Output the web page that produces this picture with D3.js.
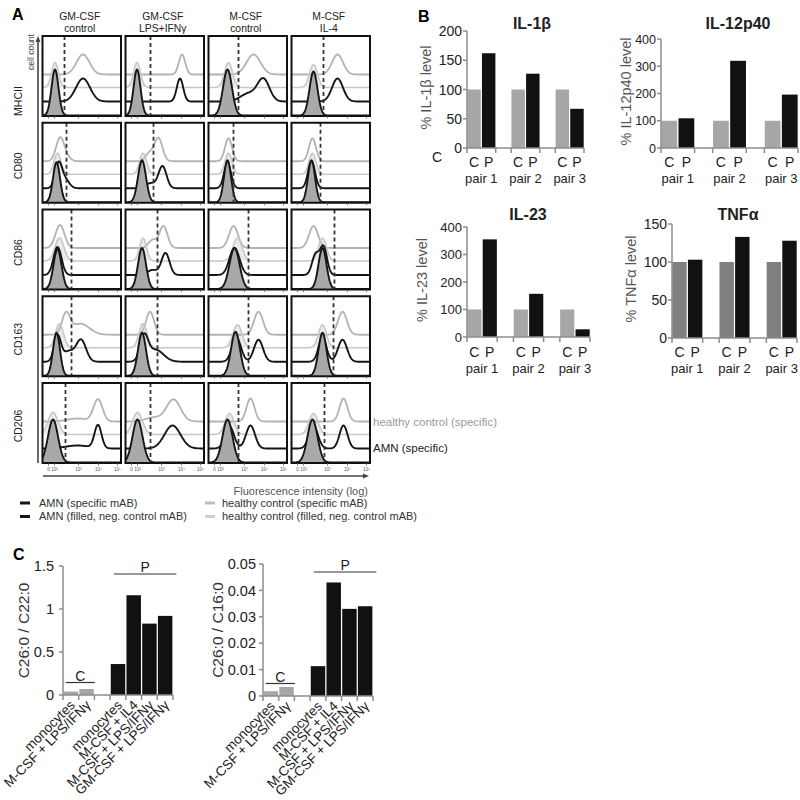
<!DOCTYPE html>
<html><head><meta charset="utf-8">
<script src="https://cdn.jsdelivr.net/npm/d3@7"></script>
<style>body{margin:0;background:#fff} svg{display:block} text{font-family:"Liberation Sans",Arial,sans-serif}</style>
</head><body><script>
// ---------------- DATA ----------------
// Panel A: flow cytometry overlays
const markers = ["MHCII","CD80","CD86","CD163","CD206"];
const conditionTop = ["GM-CSF","GM-CSF","M-CSF","M-CSF"];
const conditionBottom = ["control","LPS+IFNγ","control","IL-4"];
const fluorTicks = [6,12,36,56,75];
const fluorTickLabels = ["0","10²","10³","10⁴","10⁵"];
const gates = [[22,25,30,32],[24,28,25,29],[29,32,40,43],[29,32,40,42],[23,25,30,33]];
// each condition: [healthy specific, healthy neg. control, AMN specific, AMN neg. control]
// each trace: list of peaks [position, height, spread]
const histMHCII = [
  [[[40.5,20,6.5]], [[12.5,25,3.5]], [[40.5,23,7]], [[12.5,46,3.5]]],
  [[[56.5,20,3.2]], [[11.5,25,3.5]], [[54.5,23,3.2]], [[11.5,46,3.5]]],
  [[[45,20,7]], [[20,25,4]], [[55,22,6],[40,8,8]], [[19,46,4.5]]],
  [[[46,20,5.5]], [[22,23,4]], [[46,23,5.5]], [[22,44,4]]]
];
const histCD80 = [
  [[[17.5,23,4],[24,4,4]], [[15,21,3.5]], [[16,25,3.5],[23,8,4]], [[14,40,3.5]]],
  [[[33,23,4],[24,8,4]], [[17.5,21,3.5]], [[37,22,4],[25,5,5]], [[16.5,42,4]]],
  [[[20,23,3.5]], [[20,21,3.5]], [[19,25,3.5]], [[19,42,3.5]]],
  [[[21,23,3.5]], [[21,21,3.5]], [[20,27,3.5]], [[20,42,3.5]]]
];
const histCD86 = [
  [[[17.5,23,4.5]], [[17,23,4.5]], [[15,28,4]], [[15,40,4]]],
  [[[38,22,4],[27,8,4]], [[17.5,23,3.5]], [[40,22,4],[27,5,5]], [[16.5,41,4]]],
  [[[25,22,4.5]], [[29,23,4.5]], [[26,27,5]], [[26,41,5]]],
  [[[22,22,4.5]], [[31,23,4]], [[24,20,3.5],[32,28,3.5]], [[31,41,4]]]
];
const histCD163 = [
  [[[23.5,20,4],[38,11,9]], [[17,24,4]], [[15,26,3.5],[26,10,5],[38.5,22,5]], [[14,43,3.5]]],
  [[[24.5,23,4]], [[17.5,24,4]], [[18.5,24,4],[30,12,8]], [[16.5,43,4]]],
  [[[50,23,4.5]], [[29,23,4.5]], [[28,24,4.5],[50,22,4.5]], [[27,44,4.5]]],
  [[[51,23,4.5]], [[31,23,4]], [[31,24,4],[51,22,4.5]], [[31,43,4]]]
];
const histCD206 = [
  [[[55.5,22,4.5],[35,3,10]], [[10.5,22,5]], [[55.5,23,3.5],[35,3,12]], [[10.5,43,5]]],
  [[[48,22,7],[28,4,8]], [[12,22,5]], [[47,23,8]], [[12,43,5]]],
  [[[42,23,4]], [[21,21,4.5]], [[21,22,4.5],[42,23,4.5]], [[19,43,5]]],
  [[[52,23,4]], [[22,21,4.5]], [[22,22,4.5],[52,23,4]], [[21,43,5]]]
];
const histograms = [histMHCII, histCD80, histCD86, histCD163, histCD206];
const legendAMN = ["AMN (specific mAB)","AMN (filled, neg. control mAB)"];
const legendHC = ["healthy control (specific mAB)","healthy control (filled, neg. control mAB)"];

// Panel B: cytokines
const pairs = ["pair 1","pair 2","pair 3"];
const groups = ["C","P"];
const il1bC = [100,100,100], il1bP = [162,127,67];
const il12C = [100,100,100], il12P = [109,320,196];
const il23C = [100,100,100], il23P = [355,157,28];
const tnfC = [100,100,100], tnfP = [103,133,128];
const il1bTicks = [0,50,100,150,200];
const il12Ticks = [0,100,200,300,400];
const il23Ticks = [0,100,200,300,400];
const tnfTicks = [0,50,100,150];

// Panel C: fatty acid ratios
const lipidCLabels = ["monocytes","M-CSF + LPS/IFNγ"];
const lipidPLabels = ["monocytes","M-CSF + IL4","M-CSF + LPS/IFNγ","GM-CSF + LPS/IFNγ"];
const c22RatioC = [0.04,0.07], c22RatioP = [0.36,1.16,0.83,0.92];
const c16RatioC = [0.0018,0.0034], c16RatioP = [0.0113,0.043,0.033,0.034];
const c22Ticks = [0,0.5,1,1.5], c22TickLabels = ["0","0.5","1","1.5"];
const c16Ticks = [0,0.01,0.02,0.03,0.04,0.05], c16TickLabels = ["0","0.01","0.02","0.03","0.04","0.05"];

// ---------------- DRAW ----------------
const svg = d3.select("body").append("svg").attr("width",800).attr("height",800);
const axisGray = "#8c8c8c";

// ===== Panel A =====
svg.append("text").attr("x",12).attr("y",20).attr("font-size",16).attr("font-weight","bold").text("A");
const A = {left:42.5, step:83, w:78.5, top:36, rstep:86.75, h:80};
const offsets = [41.5, 28.5, 14.5, 0.5];
const tStyles = [
  {stroke:"#b3b3b3", width:1.8, fill:null},
  {stroke:"#c8c8c8", width:1.6, fill:"#ebebeb"},
  {stroke:"#151515", width:1.9, fill:null},
  {stroke:"#151515", width:1.9, fill:"#a9a9a9"}
];
const xsamp = d3.range(0, 80.01, 0.5);

conditionTop.forEach((t, c) => {
  const cx = A.left + c*A.step + A.w/2 - 2;
  const tx = svg.append("text").attr("text-anchor","middle").attr("font-size",10.4).attr("fill","#222");
  tx.append("tspan").attr("x",cx).attr("y",20).text(t);
  tx.append("tspan").attr("x",cx).attr("y",32).text(conditionBottom[c]);
});

markers.forEach((m, r) => {
  const ry = A.top + r*A.rstep;
  const ly = r === 0 ? 101 : ry + A.h/2 + 3;
  svg.append("text").attr("transform",`translate(22,${ly}) rotate(-90)`).attr("text-anchor","middle")
    .attr("font-size",10.5).attr("fill","#222").text(m);
  conditionTop.forEach((_, c) => {
    const x0 = A.left + c*A.step, y0 = ry;
    const x = d3.scaleLinear().domain([0,80]).range([x0, x0+80]);
    const y = d3.scaleLinear().domain([0,80]).range([y0+A.h, y0]);
    const id = `clip${r}_${c}`;
    svg.append("clipPath").attr("id",id).append("rect").attr("x",x0).attr("y",y0).attr("width",A.w).attr("height",A.h);
    const g = svg.append("g").attr("clip-path",`url(#${id})`);
    const traces = histograms[r][c].map((peaks, t) =>
      xsamp.map(v => [v, offsets[t] + d3.sum(peaks, p => p[1]*Math.exp(-0.5*((v-p[0])/p[2])**2))]));
    const area1 = d3.area().x(d=>x(d[0])).y0(y(offsets[1])).y1(d=>y(d[1]));
    g.append("path").attr("d", area1(traces[1])).attr("fill", tStyles[1].fill);
    traces.forEach((pts, t) => {
      if (t === 3) {
        const area = d3.area().x(d=>x(d[0])).y0(y(offsets[3])).y1(d=>y(d[1]));
        g.append("path").attr("d", area(pts)).attr("fill", tStyles[3].fill);
      }
      const line = d3.line().x(d=>x(d[0])).y(d=>y(d[1]));
      g.append("path").attr("d", line(pts)).attr("fill","none").attr("stroke",tStyles[t].stroke)
        .attr("stroke-width",tStyles[t].width).attr("stroke-linejoin","round");
    });
    g.append("line").attr("x1",x(gates[r][c])).attr("x2",x(gates[r][c])).attr("y1",y0).attr("y2",y0+A.h)
      .attr("stroke","#333").attr("stroke-width",1.8).attr("stroke-dasharray","4,3");
    svg.append("rect").attr("x",x0).attr("y",y0).attr("width",A.w).attr("height",A.h)
      .attr("fill","none").attr("stroke","#111").attr("stroke-width",2);
    fluorTicks.forEach(v => svg.append("line").attr("x1",x(v)).attr("x2",x(v)).attr("y1",y0+A.h).attr("y2",y0+A.h+2.5)
      .attr("stroke","#555").attr("stroke-width",0.8));
    if (r === markers.length-1) {
      fluorTicks.forEach((v,i) => svg.append("text").attr("x",x(v)).attr("y",y0+A.h+8).attr("text-anchor","middle")
        .attr("font-size",4.5).attr("fill","#555").text(fluorTickLabels[i]));
    }
  });
});
svg.append("line").attr("x1",38).attr("x2",38).attr("y1",40).attr("y2",463).attr("stroke","#444").attr("stroke-width",1.6);
svg.append("path").attr("d","M38,36 L35.5,42 L40.5,42 Z").attr("fill","#444");
svg.append("text").attr("transform","translate(34,52) rotate(-90)").attr("text-anchor","middle").attr("font-size",8.5).attr("fill","#444").text("cell count");
svg.append("line").attr("x1",43).attr("x2",364).attr("y1",476).attr("y2",476).attr("stroke","#444").attr("stroke-width",1.6);
svg.append("path").attr("d","M369,476 L363,473.5 L363,478.5 Z").attr("fill","#444");
svg.append("text").attr("x",368).attr("y",495).attr("text-anchor","end").attr("font-size",11).attr("fill","#555").text("Fluorescence intensity (log)");
svg.append("text").attr("x",373).attr("y",426).attr("font-size",11.5).attr("fill","#999").text("healthy control (specific)");
svg.append("text").attr("x",373).attr("y",452).attr("font-size",11.5).attr("fill","#222").text("AMN (specific)");
legendAMN.forEach((t,i) => {
  const ly = 503 + i*13.5;
  svg.append("line").attr("x1",20).attr("x2",30).attr("y1",ly).attr("y2",ly).attr("stroke","#151515").attr("stroke-width",3);
  svg.append("text").attr("x",39).attr("y",ly+3.8).attr("font-size",11).attr("fill","#333").text(t);
});
legendHC.forEach((t,i) => {
  const ly = 503 + i*13.5;
  svg.append("line").attr("x1",205).attr("x2",215).attr("y1",ly).attr("y2",ly).attr("stroke",i===0?"#bdbdbd":"#cfcfcf").attr("stroke-width",3);
  svg.append("text").attr("x",222).attr("y",ly+3.8).attr("font-size",11).attr("fill","#333").text(t);
});

// ===== Panel B =====
svg.append("text").attr("x",418).attr("y",22).attr("font-size",16).attr("font-weight","bold").text("B");
svg.append("text").attr("x",437).attr("y",162).attr("text-anchor","middle").attr("font-size",14).attr("fill","#222").text("C");

function cytokineChart(cfg) {
  const y = d3.scaleLinear().domain([0, d3.max(cfg.ticks)]).range(cfg.yr);
  const outer = d3.scaleBand().domain(pairs).range(cfg.xr).paddingInner(0.35).paddingOuter(0);
  const inner = d3.scaleBand().domain(groups).range([0, outer.bandwidth()]).paddingInner(0.08).paddingOuter(0.02);
  const g = svg.append("g");
  pairs.forEach((p, i) => {
    [["C", cfg.c[i], cfg.cColor], ["P", cfg.p[i], "#111"]].forEach(([k, v, col]) => {
      g.append("rect").attr("x", outer(p)+inner(k)).attr("y", y(v)).attr("width", inner.bandwidth())
        .attr("height", y(0)-y(v)).attr("fill", col);
      g.append("text").attr("x", outer(p)+inner(k)+inner.bandwidth()/2).attr("y", cfg.catY)
        .attr("text-anchor","middle").attr("font-size",14).attr("fill","#222").text(k);
    });
    g.append("text").attr("x", outer(p)+outer.bandwidth()/2).attr("y", cfg.pairY)
      .attr("text-anchor","middle").attr("font-size",13).attr("fill","#222").text(p);
    [outer(p), outer(p)+outer.bandwidth()].forEach(bx =>
      g.append("line").attr("x1",bx).attr("x2",bx).attr("y1",y(0)).attr("y2",y(0)+5).attr("stroke",axisGray).attr("stroke-width",1.5));
  });
  g.append("line").attr("x1",cfg.xr[0]).attr("x2",cfg.xr[1]).attr("y1",y(0)).attr("y2",y(0)).attr("stroke",axisGray).attr("stroke-width",1.5);
  g.append("line").attr("x1",cfg.xr[0]).attr("x2",cfg.xr[0]).attr("y1",y(0)).attr("y2",y(d3.max(cfg.ticks))).attr("stroke",axisGray).attr("stroke-width",1.5);
  cfg.ticks.forEach(t => {
    g.append("line").attr("x1",cfg.xr[0]-4).attr("x2",cfg.xr[0]).attr("y1",y(t)).attr("y2",y(t)).attr("stroke",axisGray).attr("stroke-width",1.5);
    g.append("text").attr("x",cfg.xr[0]-5).attr("y",y(t)).attr("dy","0.36em").attr("text-anchor","end")
      .attr("font-size",cfg.tickFont).attr("fill","#222").text(t);
  });
  g.append("text").attr("x",cfg.titleX).attr("y",cfg.titleY).attr("text-anchor","middle").attr("font-size",16)
    .attr("font-weight","bold").attr("fill","#222").text(cfg.title);
  g.append("text").attr("transform",`translate(${cfg.yLabelX},${(cfg.yr[0]+cfg.yr[1])/2-2}) rotate(-90)`)
    .attr("text-anchor","middle").attr("font-size",14.5).attr("fill","#555").text(cfg.yLabel);
}
cytokineChart({title:"IL-1β", yLabel:"% IL-1β level", c:il1bC, p:il1bP, ticks:il1bTicks, xr:[467,584], yr:[148,31],
  titleX:532, titleY:29, yLabelX:431, catY:167, pairY:183, cColor:"#a6a6a6", tickFont:14});
cytokineChart({title:"IL-12p40", yLabel:"% IL-12p40 level", c:il12C, p:il12P, ticks:il12Ticks, xr:[661,798], yr:[148,39],
  titleX:738, titleY:29, yLabelX:631, catY:167, pairY:183, cColor:"#a6a6a6", tickFont:12.5});
cytokineChart({title:"IL-23", yLabel:"% IL-23 level", c:il23C, p:il23P, ticks:il23Ticks, xr:[467,590], yr:[337,227],
  titleX:528, titleY:220, yLabelX:427, catY:357, pairY:373, cColor:"#a6a6a6", tickFont:13});
cytokineChart({title:"TNFα", yLabel:"% TNFα level", c:tnfC, p:tnfP, ticks:tnfTicks, xr:[672,797], yr:[338,224],
  titleX:738, titleY:220, yLabelX:636, catY:357, pairY:373, cColor:"#808080", tickFont:14});

// ===== Panel C =====
svg.append("text").attr("x",13).attr("y",560).attr("font-size",16).attr("font-weight","bold").text("C");

function lipidChart(cfg) {
  const keys = [...lipidCLabels.map((d,i)=>"C"+i), "gap", ...lipidPLabels.map((d,i)=>"P"+i)];
  const x = d3.scaleBand().domain(keys).range(cfg.xr).paddingInner(0.08).paddingOuter(0.04);
  const y = d3.scaleLinear().domain([0, d3.max(cfg.ticks)]).range(cfg.yr);
  const g = svg.append("g");
  const bars = [
    ...cfg.c.map((v,i)=>({k:"C"+i, v, col:"#a6a6a6", label:lipidCLabels[i]})),
    ...cfg.p.map((v,i)=>({k:"P"+i, v, col:"#111", label:lipidPLabels[i]}))
  ];
  bars.forEach(b => {
    g.append("rect").attr("x",x(b.k)).attr("y",y(b.v)).attr("width",x.bandwidth()).attr("height",y(0)-y(b.v)).attr("fill",b.col);
    const cx = x(b.k)+x.bandwidth()/2;
    g.append("text").attr("transform",`translate(${cx+5},${y(0)+11}) rotate(-45)`).attr("text-anchor","end")
      .attr("font-size",13.5).attr("fill","#222").text(b.label);
  });
  g.append("line").attr("x1",cfg.xr[0]).attr("x2",cfg.xr[1]).attr("y1",y(0)).attr("y2",y(0)).attr("stroke",axisGray).attr("stroke-width",1.5);
  g.append("line").attr("x1",cfg.xr[0]).attr("x2",cfg.xr[0]).attr("y1",y(0)).attr("y2",y(d3.max(cfg.ticks))).attr("stroke",axisGray).attr("stroke-width",1.5);
  const st = x.step();
  d3.range(keys.length+1).forEach(i => {
    const bx = cfg.xr[0] + i*st;
    g.append("line").attr("x1",bx).attr("x2",bx).attr("y1",y(0)).attr("y2",y(0)+5).attr("stroke",axisGray).attr("stroke-width",1.5);
  });
  cfg.ticks.forEach((t,i) => {
    g.append("line").attr("x1",cfg.xr[0]-4).attr("x2",cfg.xr[0]).attr("y1",y(t)).attr("y2",y(t)).attr("stroke",axisGray).attr("stroke-width",1.5);
    g.append("text").attr("x",cfg.xr[0]-cfg.labelGap).attr("y",y(t)).attr("dy","0.36em").attr("text-anchor","end")
      .attr("font-size",14.5).attr("fill","#222").text(cfg.tickLabels[i]);
  });
  const cx0 = x("C0")+2, cx1 = x("C"+(cfg.c.length-1))+x.bandwidth()+1, cy = y(0)-12.5;
  g.append("line").attr("x1",cx0).attr("x2",cx1).attr("y1",cy).attr("y2",cy).attr("stroke","#333").attr("stroke-width",1.2);
  g.append("text").attr("x",(cx0+cx1)/2).attr("y",cy-2).attr("text-anchor","middle").attr("font-size",14).attr("fill","#222").text("C");
  const px0 = x("P0")+3, px1 = x("P"+(cfg.p.length-1))+x.bandwidth()+4, py = y(d3.max(cfg.ticks))+8;
  g.append("line").attr("x1",px0).attr("x2",px1).attr("y1",py).attr("y2",py).attr("stroke","#333").attr("stroke-width",1.2);
  g.append("text").attr("x",(px0+px1)/2).attr("y",py-2).attr("text-anchor","middle").attr("font-size",14).attr("fill","#222").text("P");
  g.append("text").attr("transform",`translate(${cfg.yLabelX},${(cfg.yr[0]+cfg.yr[1])/2}) rotate(-90)`)
    .attr("text-anchor","middle").attr("font-size",15.5).attr("fill","#333").text(cfg.yLabel);
}
lipidChart({c:c22RatioC, p:c22RatioP, ticks:c22Ticks, tickLabels:c22TickLabels, xr:[63,173], yr:[695,566], labelGap:9, yLabelX:28.5, yLabel:"C26:0 / C22:0"});
lipidChart({c:c16RatioC, p:c16RatioP, ticks:c16Ticks, tickLabels:c16TickLabels, xr:[263,373], yr:[696,564], labelGap:7, yLabelX:223, yLabel:"C26:0 / C16:0"});
</script></body></html>
